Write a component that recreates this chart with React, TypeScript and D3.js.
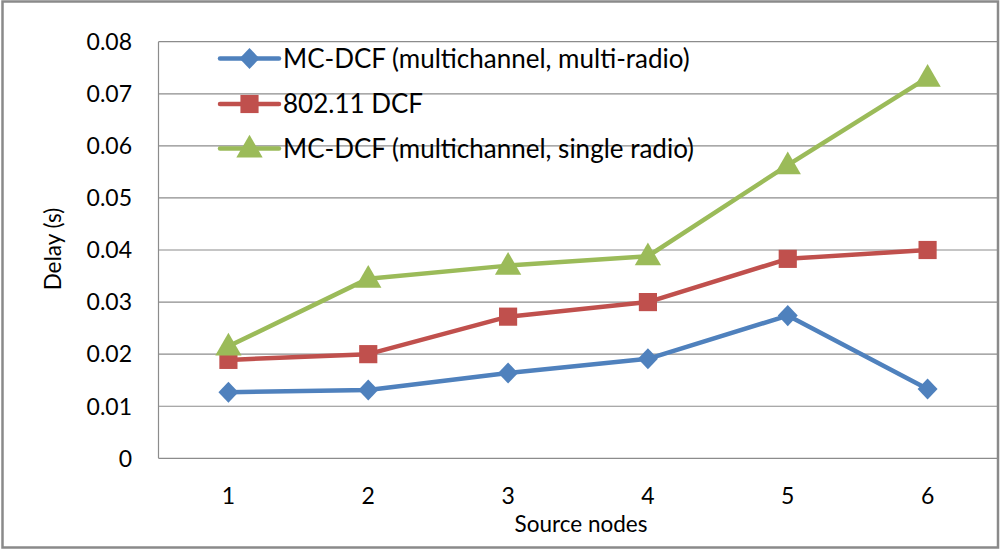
import * as d3 from "d3";
import React from "react";

// chart data
const nodes = [1, 2, 3, 4, 5, 6];
const multiRadio = [0.0127, 0.0131, 0.0164, 0.0191, 0.0274, 0.0133];
const dcf = [0.0189, 0.02, 0.0272, 0.03, 0.0383, 0.04];
const singleRadio = [0.0215, 0.0345, 0.037, 0.0388, 0.0563, 0.0731];
const yTicks = [0, 0.01, 0.02, 0.03, 0.04, 0.05, 0.06, 0.07, 0.08];
const seriesNames = [
  "MC-DCF (multichannel, multi-radio)",
  "802.11 DCF",
  "MC-DCF (multichannel, single radio)",
];

const width = 1000;
const height = 549;
const marginLeft = 158.5; // plot area left, in pixels
const marginRight = 2.5;
const marginTop = 41.7;
const marginBottom = 90.7;
const font = "Lato, 'Liberation Sans', sans-serif";

const colors = ["#4F81BD", "#C0504D", "#9BBB59"];
const shapes = [d3.symbolDiamond, d3.symbolSquare, d3.symbolTriangle];
const sizes = [190, 330, 300];

function Marker({ i, x, y }: { i: number; x: number; y: number }) {
  const sym = d3.symbol().type(shapes[i]).size(sizes[i]);
  // diamond in d3 is narrow, widen it a bit
  const tr = i === 0 ? `translate(${x},${y}) scale(1.35,0.82)` : `translate(${x},${y + (i === 2 ? 1.5 : 0)})`;
  return <path d={sym() ?? ""} transform={tr} fill={colors[i]} />;
}

export default function App() {
  const xScale = d3
    .scalePoint<number>()
    .domain(nodes)
    .range([marginLeft, width - marginRight])
    .padding(0.5);
  const yScale = d3
    .scaleLinear()
    .domain([0, 0.08])
    .range([height - marginBottom, marginTop]);

  const series = [multiRadio, dcf, singleRadio];
  const line = d3
    .line<number>()
    .x((_, j) => xScale(nodes[j]) ?? 0)
    .y((d) => yScale(d));

  const legendY = [58.5, 104, 148.5];

  return (
    <svg
      width={width}
      height={height}
      viewBox={`0 0 ${width} ${height}`}
      style={{ position: "absolute", left: 0, top: 0, background: "#fff" }}
      fontFamily={font}
    >
      <rect x={0} y={0} width={width} height={height} fill="#fff" />
      <rect x={2.5} y={1.5} width={995.5} height={546} fill="none" stroke="#8a8a8a" strokeWidth={2.5} />

      {/* gridlines */}
      {yTicks.map((t) => (
        <line
          key={t}
          x1={marginLeft}
          x2={width - marginRight}
          y1={yScale(t)}
          y2={yScale(t)}
          stroke="#8c8c8c"
          strokeWidth={1.2}
        />
      ))}
      <line x1={marginLeft} x2={marginLeft} y1={marginTop} y2={yScale(0)} stroke="#8c8c8c" strokeWidth={1.2} />

      {/* y tick labels */}
      {yTicks.map((t) => (
        <text key={t} x={132} y={yScale(t)} dy="0.36em" textAnchor="end" fontSize={23} fill="#000">
          {String(t)}
        </text>
      ))}

      {/* x tick labels */}
      {nodes.map((n) => (
        <text key={n} x={xScale(n)} y={496} dy="0.36em" textAnchor="middle" fontSize={23} fill="#000">
          {n}
        </text>
      ))}

      <text x={581} y={532} textAnchor="middle" fontSize={22.5} fill="#000">
        Source nodes
      </text>
      <text transform="translate(61,249) rotate(-90)" textAnchor="middle" fontSize={22.5} fill="#000">
        Delay (s)
      </text>

      {/* series */}
      {series.map((vals, i) => (
        <g key={i}>
          <path d={line(vals) ?? ""} fill="none" stroke={colors[i]} strokeWidth={4.5} strokeLinejoin="round" />
          {vals.map((v, j) => (
            <Marker key={j} i={i} x={xScale(nodes[j]) ?? 0} y={yScale(v)} />
          ))}
        </g>
      ))}

      {/* legend */}
      {seriesNames.map((name, i) => (
        <g key={name}>
          <line x1={220} x2={279} y1={legendY[i]} y2={legendY[i]} stroke={colors[i]} strokeWidth={4.5} strokeLinecap="round" />
          <Marker i={i} x={249.5} y={legendY[i]} />
          <text x={283} y={legendY[i]} dy="0.36em" fontSize={26} fill="#000">
            {name}
          </text>
        </g>
      ))}
    </svg>
  );
}
